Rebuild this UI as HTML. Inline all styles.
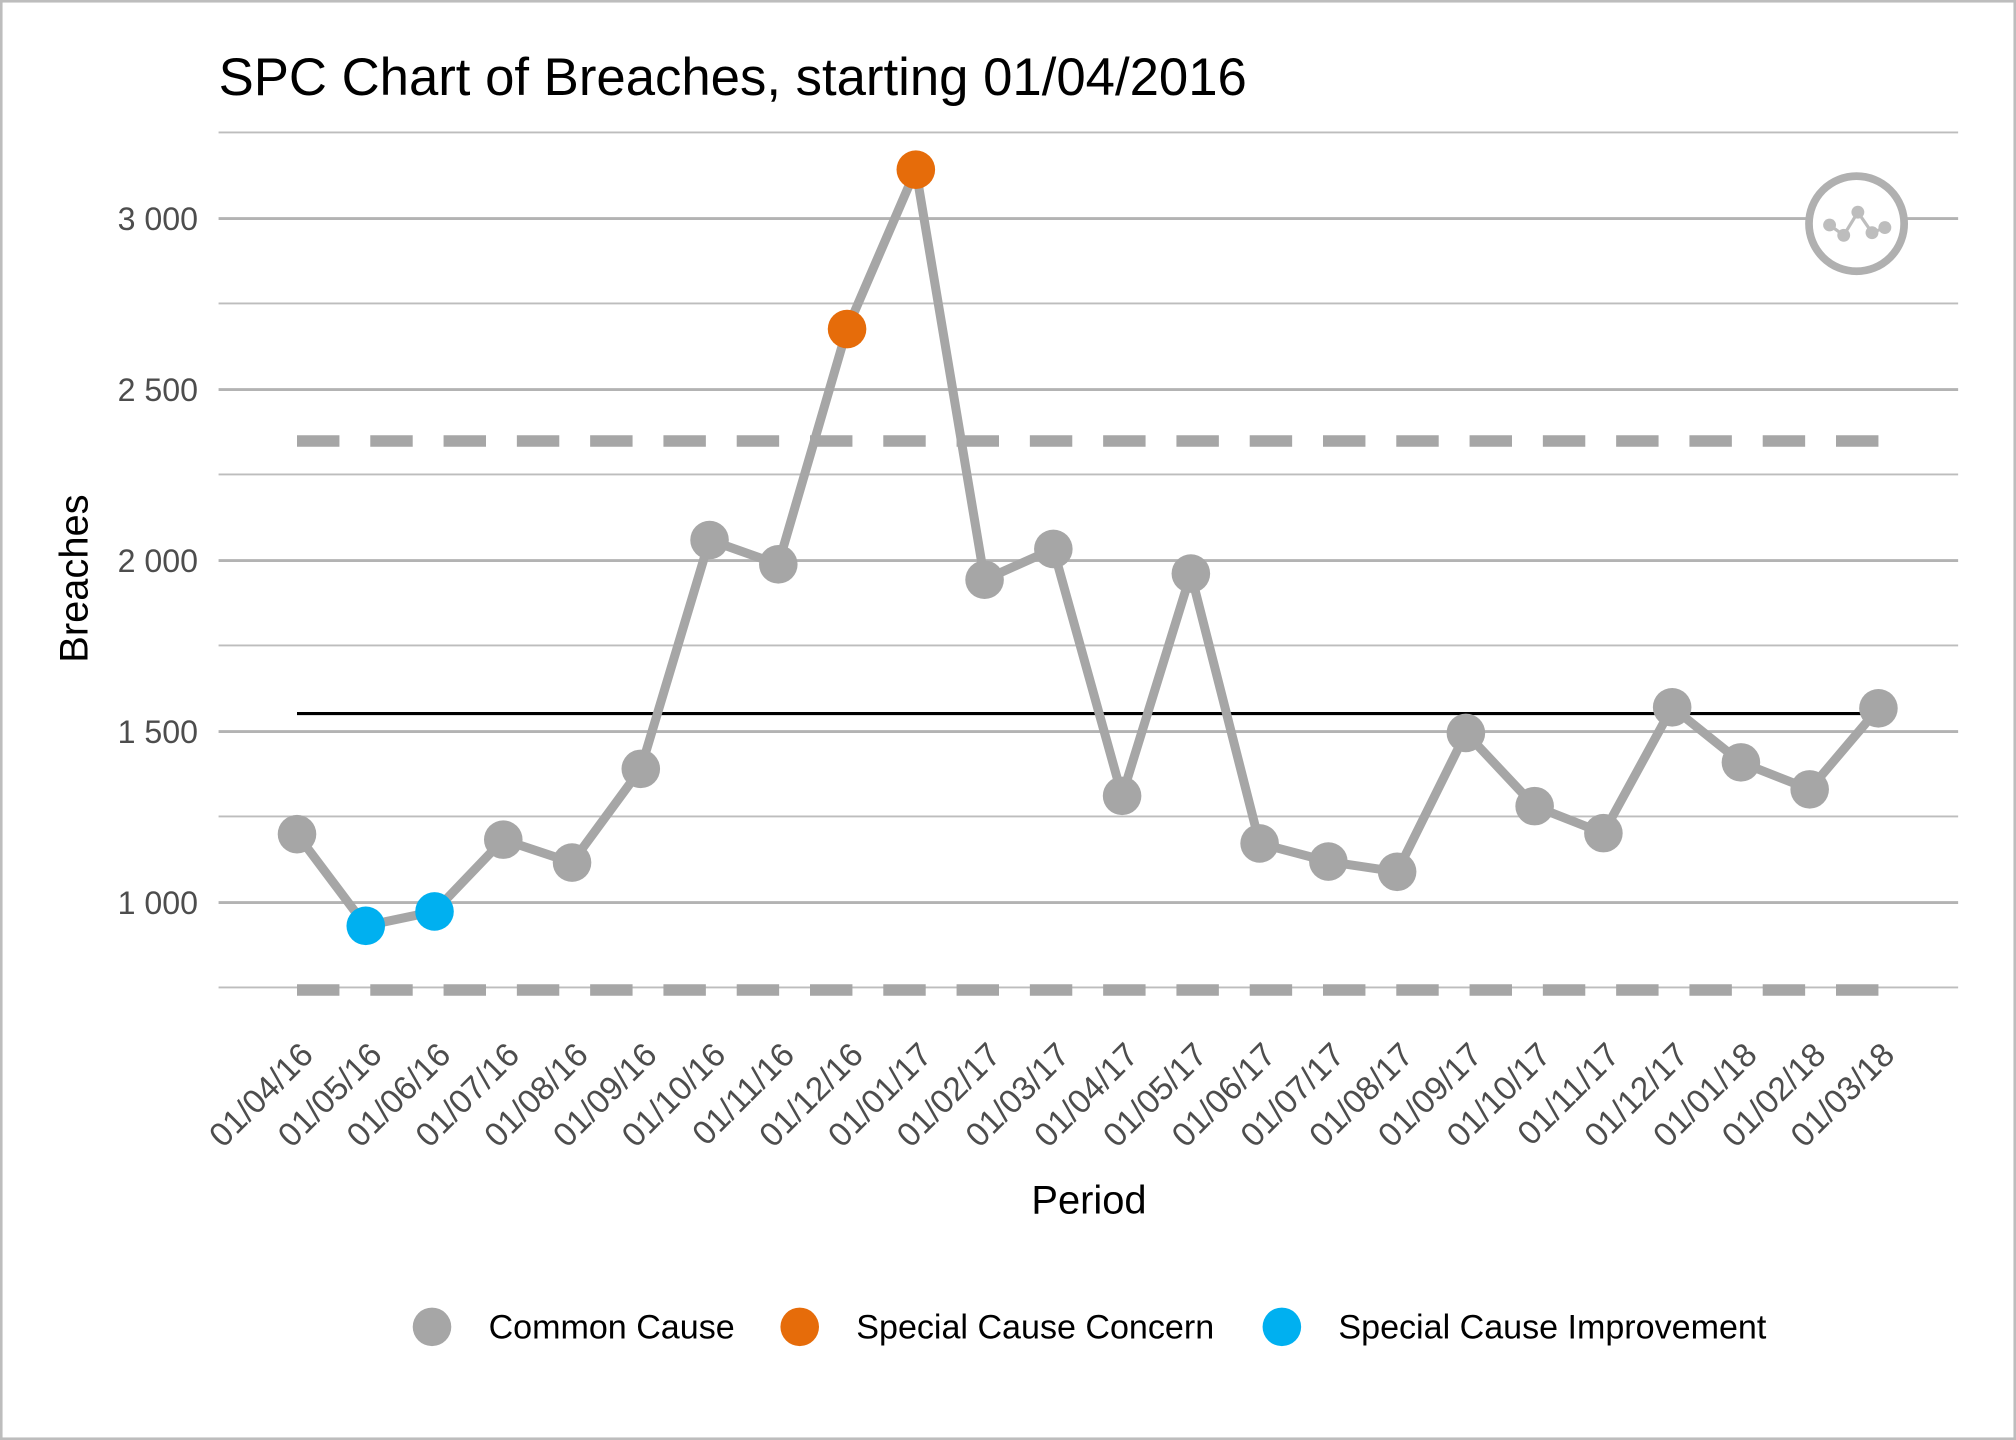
<!DOCTYPE html>
<html><head><meta charset="utf-8"><style>
html,body{margin:0;padding:0;background:#fff}
svg{display:block}
text{font-family:"Liberation Sans",Arial,sans-serif}
</style></head><body>
<svg id="c" width="2016" height="1440" viewBox="0 0 1568 1120" xmlns="http://www.w3.org/2000/svg">
<rect x="1" y="1" width="1566" height="1118" fill="#fff" stroke="#bdbdbd" stroke-width="2"/>
<text x="170" y="74" font-size="41" fill="#000">SPC Chart of Breaches, starting 01/04/2016</text>
<g id="grid"></g>
<line x1="231" y1="555" x2="1461" y2="555" stroke="#000" stroke-width="2.5"/>
<line x1="231" y1="343" x2="1461" y2="343" stroke="#a6a6a6" stroke-width="9" stroke-dasharray="33,24"/>
<line x1="231" y1="770" x2="1461" y2="770" stroke="#a6a6a6" stroke-width="9" stroke-dasharray="33,24"/>
<g id="series"></g>
<g id="xl"></g>
<text x="847" y="944" font-size="31" text-anchor="middle" fill="#000">Period</text>
<text transform="translate(68,450) rotate(-90)" font-size="31" text-anchor="middle" fill="#000">Breaches</text>
<g font-size="25" fill="#4d4d4d" text-anchor="end">
<text x="154" y="179">3 000</text><text x="154" y="312">2 500</text><text x="154" y="445">2 000</text><text x="154" y="578">1 500</text><text x="154" y="711">1 000</text>
</g>
<g>
<circle cx="1444" cy="174" r="37" fill="#fff" stroke="#b0b0b0" stroke-width="6"/>
<polyline points="1423,175 1434,183 1445,165 1456,181 1466,177" fill="none" stroke="#bdbdbd" stroke-width="2.5"/>
<circle cx="1423" cy="175" r="5" fill="#bdbdbd"/><circle cx="1434" cy="183" r="5" fill="#bdbdbd"/><circle cx="1445" cy="165" r="5" fill="#bdbdbd"/><circle cx="1456" cy="181" r="5" fill="#bdbdbd"/><circle cx="1466" cy="177" r="5" fill="#bdbdbd"/>
</g>
<g font-size="26.5" fill="#000">
<circle cx="336" cy="1032" r="15" fill="#a6a6a6"/><text x="380" y="1041">Common Cause</text>
<circle cx="622" cy="1032" r="15" fill="#e66c0a"/><text x="666" y="1041">Special Cause Concern</text>
<circle cx="997" cy="1032" r="15" fill="#00b0f0"/><text x="1041" y="1041">Special Cause Improvement</text>
</g>
</svg>
<script>
var ns="http://www.w3.org/2000/svg";
function el(t,a,p){var e=document.createElementNS(ns,t);for(var k in a)e.setAttribute(k,a[k]);p.appendChild(e);return e;}
var g=document.getElementById('grid');
[103,236,369,502,635,768].forEach(function(y){el('line',{x1:170,x2:1523,y1:y,y2:y,stroke:'#bdbdbd','stroke-width':1.5},g)});
[170,303,436,569,702].forEach(function(y){el('line',{x1:170,x2:1523,y1:y,y2:y,stroke:'#b3b3b3','stroke-width':2.2},g)});
var v=[1200,932,974,1184,1117,1391,2060,1989,2677,3143,1944,2034,1312,1962,1173,1120,1090,1496,1282,1203,1571,1410,1331,1568];
var lab=["01/04/16","01/05/16","01/06/16","01/07/16","01/08/16","01/09/16","01/10/16","01/11/16","01/12/16","01/01/17","01/02/17","01/03/17","01/04/17","01/05/17","01/06/17","01/07/17","01/08/17","01/09/17","01/10/17","01/11/17","01/12/17","01/01/18","01/02/18","01/03/18"];
var col=v.map(function(_,i){return (i==1||i==2)?'#00b0f0':(i==8||i==9)?'#e66c0a':'#a6a6a6'});
var s=document.getElementById('series');
var pts=v.map(function(d,i){return [231+i*1230/23,170+(3000-d)*133/500]});
el('polyline',{points:pts.map(function(p){return p.join(',')}).join(' '),fill:'none',stroke:'#a6a6a6','stroke-width':7,'stroke-linejoin':'round'},s);
pts.forEach(function(p,i){el('circle',{cx:p[0],cy:p[1],r:15,fill:col[i]},s)});
var xl=document.getElementById('xl');
pts.forEach(function(p,i){var t=el('text',{transform:'translate('+(p[0]+14)+',822) rotate(-45)','font-size':26,fill:'#4d4d4d','text-anchor':'end'},xl);t.textContent=lab[i];});
</script>
</body></html>
